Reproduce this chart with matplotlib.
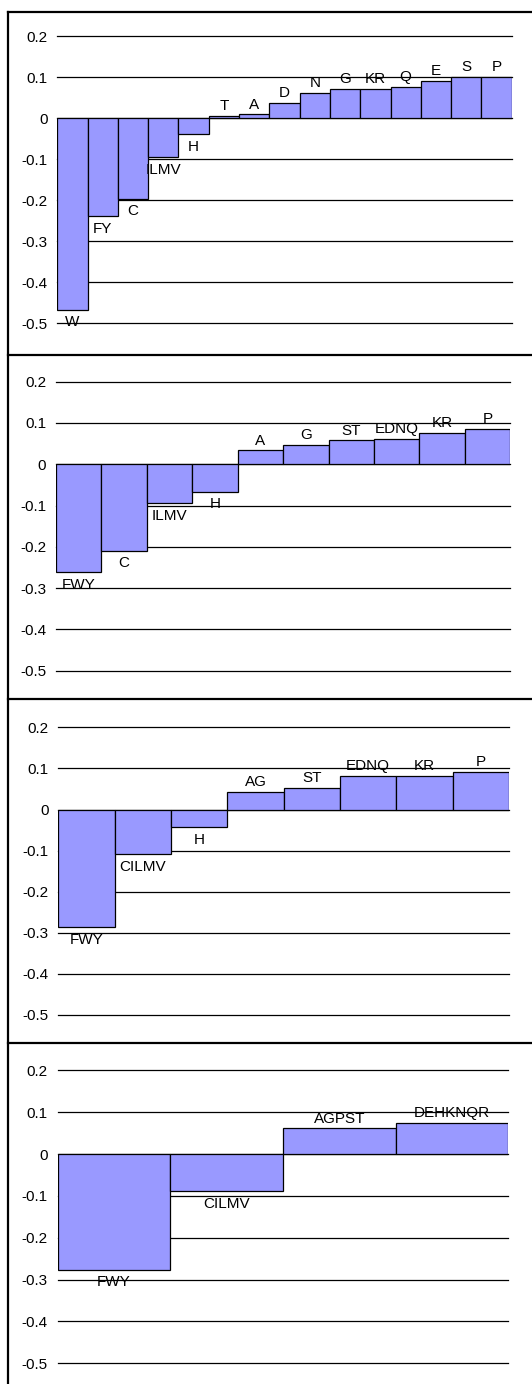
import matplotlib
matplotlib.use("Agg")
import matplotlib.pyplot as plt
from matplotlib.lines import Line2D
import numpy as np

plt.rcParams['font.family'] = ['Liberation Sans', 'DejaVu Sans']

# panel 1: 15 groups
groups_1 = ["W", "FY", "C", "ILMV", "H", "T", "A", "D", "N", "G", "KR", "Q", "E", "S", "P"]
values_1 = [-0.467, -0.239, -0.197, -0.095, -0.039, 0.005, 0.009, 0.037, 0.062, 0.071, 0.071, 0.076, 0.091, 0.100, 0.100]

# panel 2: 10 groups
groups_2 = ["FWY", "C", "ILMV", "H", "A", "G", "ST", "EDNQ", "KR", "P"]
values_2 = [-0.261, -0.209, -0.095, -0.066, 0.034, 0.047, 0.058, 0.062, 0.076, 0.085]

# panel 3: 8 groups
groups_3 = ["FWY", "CILMV", "H", "AG", "ST", "EDNQ", "KR", "P"]
values_3 = [-0.286, -0.109, -0.043, 0.043, 0.053, 0.082, 0.082, 0.091]

# panel 4: 4 groups
groups_4 = ["FWY", "CILMV", "AGPST", "DEHKNQR"]
values_4 = [-0.276, -0.089, 0.061, 0.075]

y_ticks = [0.2, 0.1, 0, -0.1, -0.2, -0.3, -0.4, -0.5]
y_tick_labels = ["0.2", "0.1", "0", "-0.1", "-0.2", "-0.3", "-0.4", "-0.5"]

W, H = 532, 1384
# axes boxes in pixels: left, right, top (0.2), bottom (-0.5)
boxes = [(57.3, 511.7, 36.0, 323.3),
         (56.0, 510.3, 381.7, 670.7),
         (58.3, 509.0, 727.3, 1015.0),
         (57.7, 508.3, 1070.3, 1363.3)]
separators = [12, 355, 699, 1043]

fig = plt.figure(figsize=(W / 100, H / 100), dpi=100)

panels = [(groups_1, values_1), (groups_2, values_2), (groups_3, values_3), (groups_4, values_4)]
for (groups, values), (l, r, t, b) in zip(panels, boxes):
    ax = fig.add_axes([l / W, 1 - b / H, (r - l) / W, (b - t) / H])
    x = np.arange(len(groups))
    for yt in y_ticks:
        ax.axhline(yt, color="black", lw=0.9, zorder=1, clip_on=False)
    ax.bar(x, values, width=1.0, color="#9999ff", edgecolor="black", linewidth=0.9, zorder=2)
    for xi, name, v in zip(x, groups, values):
        off = 7 if v >= 0 else -9
        ax.annotate(name, (xi, v), xytext=(0, off), textcoords="offset points",
                    ha="center", va="center", fontsize=11, zorder=3)
    ax.set_xlim(-0.5, len(groups) - 0.5)
    ax.set_ylim(-0.5, 0.2)
    ax.set_yticks(y_ticks)
    ax.set_yticklabels(y_tick_labels, fontsize=11)
    ax.set_xticks([])
    ax.tick_params(axis="y", length=0, pad=7)
    for s in ax.spines.values():
        s.set_visible(False)
    ax.patch.set_visible(False)

# panel frames: top rules and left rule
for yp in separators:
    fig.add_artist(Line2D([8 / W, 1], [1 - yp / H, 1 - yp / H], color="black", lw=1.6))
fig.add_artist(Line2D([8 / W, 8 / W], [1 - 12 / H, 0], color="black", lw=1.6))

fig.savefig("out.png", dpi=100)
